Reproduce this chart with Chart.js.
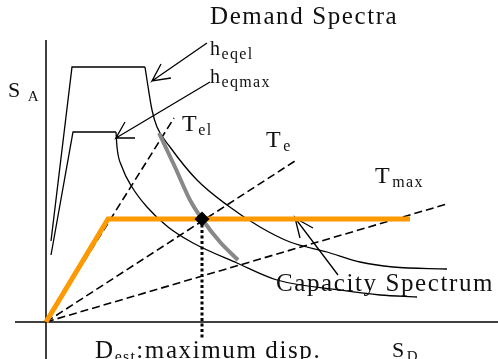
<!DOCTYPE html>
<html>
<head>
<meta charset="utf-8">
<script src="https://cdn.jsdelivr.net/npm/chart.js@4"></script>
<style>
  html, body { margin: 0; padding: 0; background: #fff; }
  #wrap { width: 498px; height: 359px; position: relative; }
</style>
</head>
<body>
<div id="wrap"><canvas id="c"></canvas></div>
<script>
// Capacity-spectrum method sketch: spectral displacement SD on x, spectral
// acceleration SA on y, origin at the crossing of the two axes.

const axisSD = [[-31, 0], [452, 0]];
const axisSA = [[0, 282], [0, -37]];

// Demand spectrum for the elastic damping h_eqel (outer)
const demandElRamp = [[5, 81], [26, 255], [99, 255]];
const demandElDecay = [[99, 255], [101, 242], [106, 212], [111, 195], [124, 175], [151, 142],
  [181, 117], [214, 95], [244, 80], [281, 70], [314, 60], [347, 55], [401, 53]];

// Demand spectrum for the maximum damping h_eqmax (inner)
const demandMaxRamp = [[5, 67], [27, 190], [70, 190]];
const demandMaxDecay = [[70, 190], [71, 175], [76, 155], [86, 135], [101, 115], [122, 95],
  [147, 79], [191, 59], [231, 42], [294, 32], [334, 27], [371, 25]];

// Bilinear capacity spectrum
const capacity = [[0, 0], [62, 103], [364, 103]];

// Demand points for varying damping
const demandLocus = [[113, 189], [129, 155], [144, 122], [156, 103], [174, 80], [192, 62]];

// Period lines through the origin
const periodEl = [[0, 0], [128, 204]];
const periodE = [[0, 0], [249, 161]];
const periodMax = [[0, 0], [401, 118]];

// Performance point and its displacement
const performancePoint = [[156, 103]];
const performanceDrop = [[156, 103], [156, -16]];

// Leader arrows: tail, tip, barb, tip, barb
const arrowEl = [[161, 279], [106, 241], [115, 258], [106, 241], [125, 244]];
const arrowMax = [[164, 240], [70, 184], [79, 200], [70, 184], [89, 184]];
const arrowCap = [[292, 47], [249, 104], [254, 84], [249, 104], [267, 94]];

// Text labels: anchor (x, baseline y), main size, subscript size and gap,
// runs of [text, subscript?]
const labels = [
  { x: 164, y: 298, size: 25, sub: 16, gap: 0, runs: [['Demand Spectra', false]] },
  { x: 164, y: 267, size: 20, sub: 16, gap: 0, runs: [['h', false], ['eqel', true]] },
  { x: 164, y: 239, size: 20, sub: 16, gap: 0, runs: [['h', false], ['eqmax', true]] },
  { x: -38, y: 225, size: 22, sub: 15, gap: 6, runs: [['S', false], ['A', true]] },
  { x: 136, y: 191, size: 24, sub: 16, gap: 0, runs: [['T', false], ['el', true]] },
  { x: 220, y: 175, size: 24, sub: 16, gap: 1, runs: [['T', false], ['e', true]] },
  { x: 329, y: 139, size: 24, sub: 16, gap: 1, runs: [['T', false], ['max', true]] },
  { x: 230, y: 31, size: 25, sub: 16, gap: 0, runs: [['Capacity Spectrum', false]] },
  { x: 49, y: -36, size: 25, sub: 16, gap: 0, runs: [['D', false], ['est', true], [':maximum disp.', false]] },
  { x: 346, y: -35, size: 22, sub: 15, gap: 1, runs: [['S', false], ['D', true]] }
];

const pts = a => a.map(([x, y]) => ({ x, y }));

function line(data, color, width, order, dash) {
  return {
    data: pts(data), showLine: true, borderColor: color, borderWidth: width,
    borderDash: dash || [], pointRadius: 0, tension: 0, fill: false, order,
    borderCapStyle: 'butt', borderJoinStyle: 'miter'
  };
}
function curve(data, color, width, order) {
  const d = line(data, color, width, order);
  d.cubicInterpolationMode = 'monotone';
  return d;
}

const ink = '#000';
const datasets = [
  { data: pts(performancePoint), showLine: false, pointStyle: 'rectRot', pointRadius: 7.5,
    pointBackgroundColor: ink, pointBorderColor: ink, pointBorderWidth: 0, order: 0 },
  line(performanceDrop, ink, 3, 1, [3, 2.5]),
  line(capacity, '#ff9900', 5, 2),
  curve(demandLocus, '#888888', 4, 3),
  line(axisSD, ink, 1.5, 5),
  line(axisSA, ink, 1.5, 5),
  line(demandElRamp, ink, 1.3, 5),
  curve(demandElDecay, ink, 1.3, 5),
  line(demandMaxRamp, ink, 1.3, 5),
  curve(demandMaxDecay, ink, 1.3, 5),
  line(periodEl, ink, 1.6, 6, [8, 4]),
  line(periodE, ink, 1.6, 6, [8, 4]),
  line(periodMax, ink, 1.6, 6, [8, 4]),
  line(arrowEl, ink, 1.3, 4),
  line(arrowMax, ink, 1.3, 4),
  line(arrowCap, ink, 1.3, 4)
];

const textPlugin = {
  id: 'diagramText',
  afterDatasetsDraw(chart) {
    const { ctx, scales: { x, y } } = chart;
    ctx.save();
    ctx.fillStyle = '#111';
    ctx.textBaseline = 'alphabetic';
    ctx.textAlign = 'left';
    for (const lab of labels) {
      let px = x.getPixelForValue(lab.x);
      const py = y.getPixelForValue(lab.y);
      for (const [txt, sub] of lab.runs) {
        const size = sub ? lab.sub : lab.size;
        if (sub) px += lab.gap;
        ctx.font = size + 'px "Liberation Serif", "Times New Roman", serif';
        ctx.letterSpacing = sub ? '1.3px' : '1.6px';
        ctx.fillText(txt, px, py + (sub ? 4 : 0));
        px += ctx.measureText(txt).width;
      }
    }
    ctx.restore();
  }
};

new Chart(document.getElementById('c'), {
  type: 'scatter',
  data: { datasets },
  options: {
    responsive: true,
    maintainAspectRatio: false,
    animation: false,
    layout: { padding: 0, autoPadding: false },
    plugins: { legend: { display: false }, tooltip: { enabled: false } },
    scales: {
      x: { type: 'linear', min: -46, max: 452, display: false },
      y: { type: 'linear', min: -37, max: 322, display: false }
    }
  },
  plugins: [textPlugin]
});
</script>
</body>
</html>
